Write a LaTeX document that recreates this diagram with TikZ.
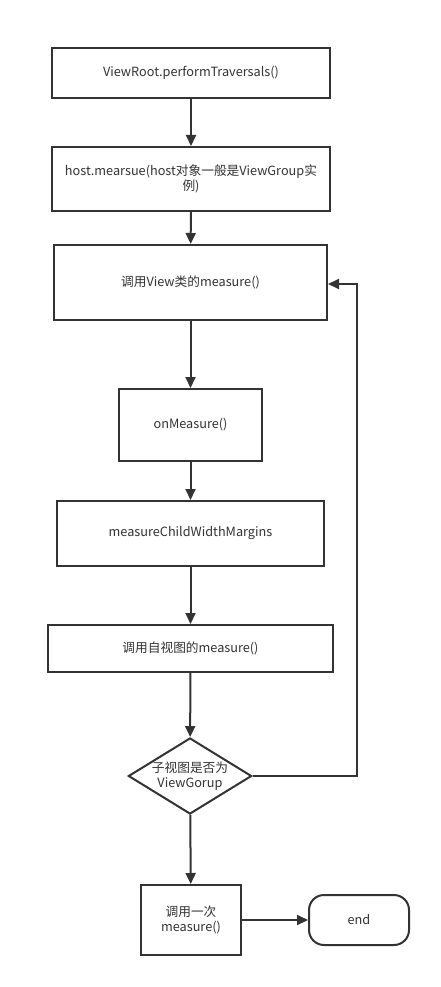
\documentclass[tikz,border=0pt]{standalone}
\usepackage{fontspec}
\setmainfont{Noto Sans CJK SC}
\usetikzlibrary{arrows.meta,shapes.geometric}
\definecolor{ln}{HTML}{333333}
\begin{document}
\begin{tikzpicture}[x=1pt,y=-1pt,
  box/.style={draw=ln,line width=2pt,fill=white,inner sep=0pt,align=center,font=\fontsize{12.7}{15.5}\selectfont,text=ln},
  arr/.style={draw=ln,line width=2pt,-{Triangle[length=11pt,width=10pt]}}]
\useasboundingbox[fill=white] (0,0) rectangle (441,987);
\node[box,minimum width=278pt,minimum height=50pt] (b1) at (191,73) {ViewRoot.performTraversals()};
\node[box,minimum width=278pt,minimum height=64pt] (b2) at (191,179) {host.mearsue(host对象一般是ViewGroup实\\例)};
\node[box,minimum width=273pt,minimum height=75pt] (b3) at (190.5,282.5) {调用View类的measure()};
\node[box,minimum width=143pt,minimum height=72pt] (b4) at (190.5,425) {onMeasure()};
\node[box,minimum width=267pt,minimum height=65pt] (b5) at (190.5,533.5) {measureChildWidthMargins};
\node[box,minimum width=285pt,minimum height=47pt] (b6) at (190.5,648.5) {调用自视图的measure()};
\node[box,diamond,aspect=1.62,minimum width=120pt,minimum height=74pt,inner sep=0pt] (d) at (190,776) {子视图是否为\\ViewGorup};
\node[box,minimum width=100pt,minimum height=70pt] (b7) at (191,920) {调用一次\\measure()};
\node[box,rounded corners=15pt,minimum width=100pt,minimum height=50pt] (e) at (359,920) {end};
\coordinate (c1) at (357,776);
\coordinate (c2) at (357,284);
\draw[arr] (b1) -- (b2);
\draw[arr] (b2) -- (b3);
\draw[arr] (b3) -- (b4);
\draw[arr] (b4) -- (b5);
\draw[arr] (b5) -- (b6);
\draw[arr] (b6) -- (d);
\draw[arr] (d) -- (b7);
\draw[arr] (b7) -- (e);
\draw[arr] (d.east) -- (c1) -- (c2) -- (b3.east |- c2);
\end{tikzpicture}
\end{document}
